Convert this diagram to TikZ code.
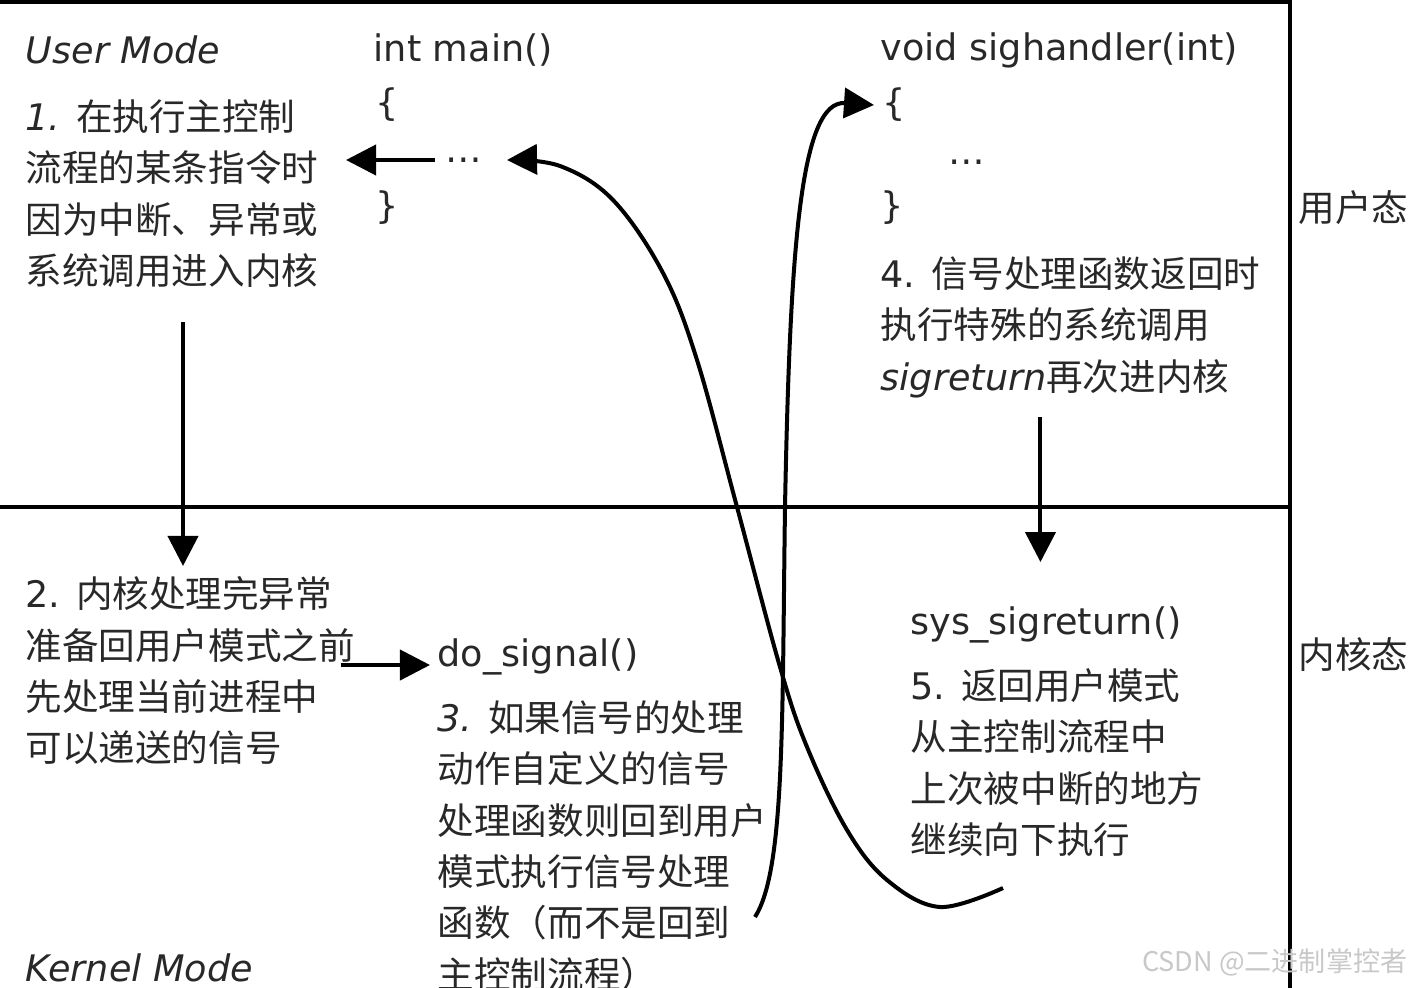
\documentclass[tikz,border=0pt]{standalone}
\usepackage{fontspec}
\setmainfont{DejaVu Sans}
\newfontfamily\cjk{Noto Sans CJK SC}
\usetikzlibrary{arrows.meta, positioning, calc}
\definecolor{inkgray}{RGB}{40,40,40}
\definecolor{markgray}{RGB}{200,200,200}
\newcommand{\zh}[1]{{\cjk #1}}

\begin{document}
\begin{tikzpicture}[
  x=0.01cm, y=-0.01cm,
  txt/.style={anchor=north west, inner sep=0pt, align=left, text=inkgray,
    font=\fontsize{10.4}{14.6}\selectfont},
  lbl/.style={anchor=west, inner sep=0pt, text=inkgray,
    font=\fontsize{10.4}{14.6}\selectfont},
  frame/.style={line width=0.045cm},
  arr/.style={-{Triangle[length=0.3cm, width=0.3cm]}, line width=0.04cm},
]
  \useasboundingbox (0,0) rectangle (1412,988);

  % Frame: user / kernel split
  \draw[frame] (0,2) -- (1290,2);
  \draw[frame] (1290,0) -- (1290,988);
  \draw[frame] (0,507) -- (1290,507);

  % User mode
  \node[lbl, font=\fontsize{10.4}{14.6}\selectfont\itshape] (usermode) at (25,50) {User Mode};
  \node[txt] (step1) at (25,99) {\textit{1.} \zh{在执行主控制}\\\zh{流程的某条指令时}\\
    \zh{因为中断、异常或}\\\zh{系统调用进入内核}};
  \node[lbl] (mainsig) at (373,50) {int main()};
  \node[lbl] (mainopen) at (375,105) {\{};
  \node[lbl] (maindots) at (445,160) {…};
  \node[lbl] (mainclose) at (375,208) {\}};

  \node[lbl] (handsig) at (880,50) {void sighandler(int)};
  \node[lbl] (handopen) at (882,105) {\{};
  \node[lbl] (handdots) at (948,162) {…};
  \node[lbl] (handclose) at (880,208) {\}};
  \node[txt] (step4) at (880,256) {4. \zh{信号处理函数返回时}\\\zh{执行特殊的系统调用}\\
    \textit{sigreturn}\zh{再次进内核}};

  \node[lbl, font=\cjk\fontsize{10.4}{14.6}\selectfont] (userlbl) at (1298,208) {用户态};
  \node[lbl, font=\cjk\fontsize{10.4}{14.6}\selectfont] (kernlbl) at (1298,655) {内核态};

  % Kernel mode
  \node[txt] (step2) at (25,576) {2. \zh{内核处理完异常}\\\zh{准备回用户模式之前}\\
    \zh{先处理当前进程中}\\\zh{可以递送的信号}};
  \node[lbl] (dosig) at (437,657) {do\_signal()};
  \node[txt] (step3) at (437,700) {\textit{3.} \zh{如果信号的处理}\\\zh{动作自定义的信号}\\
    \zh{处理函数则回到用户}\\\zh{模式执行信号处理}\\\zh{函数（而不是回到}\\\zh{主控制流程）}};
  \node[lbl] (sysret) at (910,625) {sys\_sigreturn()};
  \node[txt] (step5) at (910,668) {5. \zh{返回用户模式}\\\zh{从主控制流程中}\\
    \zh{上次被中断的地方}\\\zh{继续向下执行}};
  \node[lbl, font=\fontsize{10.4}{14.6}\selectfont\itshape] (kernelmode) at (25,968) {Kernel Mode};

  \node[anchor=east, inner sep=0pt, text=markgray, font=\cjk\fontsize{7.7}{9}\selectfont]
    (mark) at (1408,962) {CSDN @二进制掌控者};

  % Arrows
  \draw[arr, shorten <=0.1cm, shorten >=0.27cm] (maindots.west) -- (maindots.west -| step1.east);
  \draw[arr, shorten <=0.34cm, shorten >=0.1cm]
    ([xshift=0.11cm]step1.south) -- ([xshift=0.11cm]step1.south |- step2.north);
  \draw[arr, shorten >=0.07cm]
    ([xshift=-0.15cm, yshift=-0.08cm]dosig.west -| step2.east) -- ([yshift=-0.08cm]dosig.west);
  \draw[arr, shorten <=0.19cm, shorten >=0.44cm]
    ([xshift=-0.3cm]step4.south) -- ([xshift=-0.3cm]step4.south |- sysret.north);

  % Curved returns
  \coordinate (retstart) at (1003,888);
  \coordinate[right=0.24cm of maindots.east] (backtip);
  \draw[arr] plot[smooth, tension=0.6] coordinates {(retstart) (940,907) (887,880)
    (847,830) (807,747) (780,667) (737,507) (697,360) (663,273) (613,200) (560,166) (backtip)};

  \coordinate (sigstart) at (755,917);
  \coordinate[left=0.08cm of handopen.west] (sigtip);
  \draw[arr] (sigstart) .. controls (785,870) and (782,720) .. (785,507)
    .. controls (790,250) and (800,100) .. (sigtip);
\end{tikzpicture}
\end{document}
